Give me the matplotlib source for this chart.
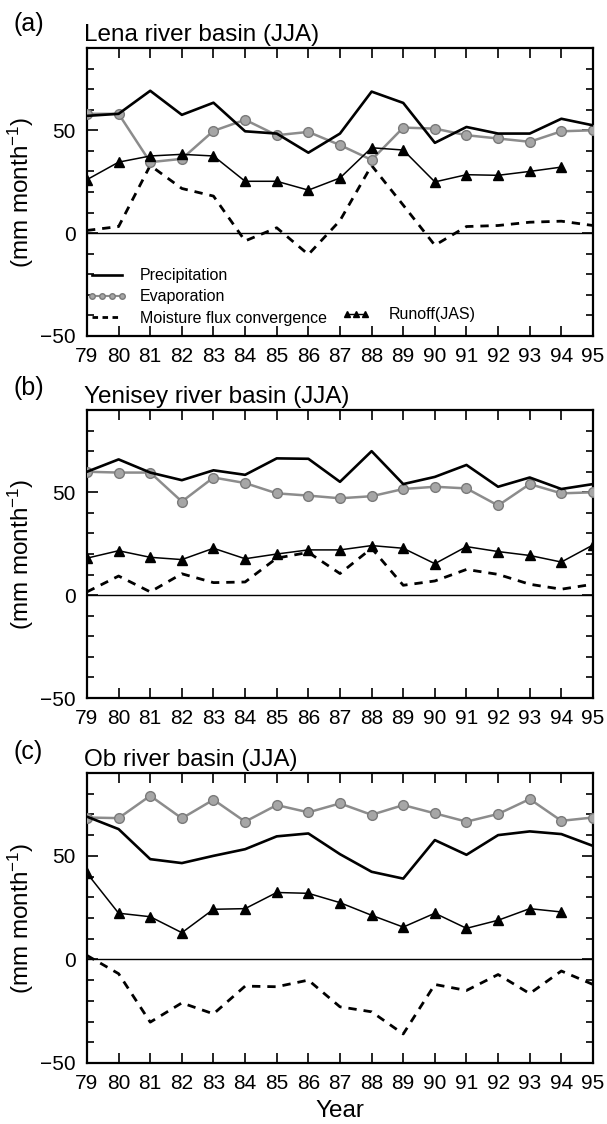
import numpy as np
import matplotlib.pyplot as plt
from matplotlib.lines import Line2D
from matplotlib.ticker import MultipleLocator

plt.rcParams['font.family'] = ['Liberation Sans', 'DejaVu Sans']
plt.rcParams['mathtext.fontset'] = 'custom'
plt.rcParams['mathtext.rm'] = 'Liberation Sans'
plt.rcParams['mathtext.default'] = 'regular'

years = np.arange(79, 96)
year_labels = [str(y) for y in years]

# Lena river basin (JJA)
lena_precip = [57, 58, 69.2, 57.5, 63.4, 49.5, 48.4, 39.1, 48.4, 68.8, 63.3, 43.9, 51.6, 48.4, 48.4, 55.6, 52.4]
lena_evap = [58, 58, 34.5, 36.1, 49.7, 55.1, 47.6, 49.2, 42.8, 35.6, 51.3, 50.8, 47.6, 46, 44.4, 49.5, 50]
lena_mfc = [1.3, 3.2, 32.9, 21.7, 18, -3.8, 2.6, -10.4, 6.1, 32.9, 13.6, -5.9, 3.2, 3.7, 5.3, 5.8, 3.7]
lena_runoff = [26, 34.5, 37.5, 38.3, 37.5, 25.2, 25.2, 20.9, 26.8, 41.5, 40.4, 24.9, 28.4, 28.1, 30, 32.1]

# Yenisey river basin (JJA)
yen_precip = [60, 66, 59.6, 55.9, 60.7, 58.5, 66.5, 66.3, 55.1, 70, 54, 57.5, 63.3, 52.7, 57.2, 51.6, 54]
yen_evap = [60, 59.6, 59.6, 45.5, 57.2, 54.5, 49.5, 48.4, 47.1, 48.1, 51.6, 52.7, 51.9, 43.6, 54, 49.5, 50]
yen_mfc = [1.6, 9.3, 1.6, 10.4, 6.1, 6.4, 18, 20.8, 10.5, 22.8, 4.8, 6.9, 12.5, 10.1, 5.3, 2.9, 5.3]
yen_runoff = [18, 21.6, 18.4, 17.3, 22.8, 17.7, 20, 22, 22, 24.1, 22.8, 15.3, 23.6, 21.2, 19.3, 16.1, 24.4]

# Ob river basin (JJA)
ob_precip = [68.9, 62.9, 48.4, 46.5, 50, 53.2, 59.4, 60.8, 50.8, 42.3, 39, 57.6, 50.5, 60, 61.8, 60.5, 54.8]
ob_evap = [68.5, 68.2, 79, 68.1, 77.1, 66.5, 74.5, 71, 75.3, 69.8, 74.5, 70.5, 66.5, 70.2, 77.4, 66.9, 68.5]
ob_mfc = [1.9, -6.9, -30.3, -21, -26.3, -12.9, -13.2, -10, -22.9, -25.3, -36, -12.1, -15, -7.3, -16.5, -5.6, -12.1]
ob_runoff = [41.6, 22.3, 20.6, 12.9, 24.2, 24.5, 32.3, 31.9, 27.4, 21.3, 15.6, 22.3, 15, 18.9, 24.5, 22.9]

GRAY = '#8c8c8c'


def draw_panel(ax, precip, evap, mfc, runoff, title):
    ax.axhline(0, color='black', lw=1.0, zorder=1)
    ax.plot(years[:len(evap)], evap, color=GRAY, lw=1.8, marker='o', ms=7,
            mfc='#a6a6a6', mec='#7a7a7a', mew=1.0, zorder=3)
    ax.plot(years[:len(runoff)], runoff, color='black', lw=1.1, marker='^',
            ms=6.5, zorder=4)
    ax.plot(years[:len(mfc)], mfc, color='black', lw=2.0, ls=(0, (3, 2.5)), zorder=2)
    ax.plot(years[:len(precip)], precip, color='black', lw=1.9, zorder=5)

    ax.set_xlim(79, 95)
    ax.set_ylim(-50, 90)
    ax.set_xticks(years)
    ax.set_xticklabels(year_labels)
    ax.set_yticks([-50, 0, 50])
    ax.yaxis.set_minor_locator(MultipleLocator(10))
    ax.tick_params(axis='x', which='major', direction='in', top=True, length=7,
                   width=1.2, labelsize=15, pad=8)
    ax.tick_params(axis='y', which='major', direction='in', right=True, length=8,
                   width=1.2, labelsize=15, pad=8)
    ax.tick_params(axis='y', which='minor', direction='in', right=True, length=5,
                   width=1.2)
    for sp in ax.spines.values():
        sp.set_linewidth(1.6)
    ax.set_ylabel('(mm month$^{-1}$)', fontsize=17.5, labelpad=3)
    ax.set_title(title, loc='left', fontsize=17.5, pad=5, x=-0.005)


fig = plt.figure(figsize=(6.07, 11.24), dpi=100)
ax_a = fig.add_axes([0.1433, 0.7011, 0.8336, 0.2562])
ax_b = fig.add_axes([0.1433, 0.3790, 0.8336, 0.2562])
ax_c = fig.add_axes([0.1433, 0.0543, 0.8336, 0.2580])

draw_panel(ax_a, lena_precip, lena_evap, lena_mfc, lena_runoff, 'Lena river basin (JJA)')
draw_panel(ax_b, yen_precip, yen_evap, yen_mfc, yen_runoff, 'Yenisey river basin (JJA)')
draw_panel(ax_c, ob_precip, ob_evap, ob_mfc, ob_runoff, 'Ob river basin (JJA)')
ax_c.set_xlabel('Year', fontsize=17.5, labelpad=5)

fig.text(0.022, 1 - 24 / 1124, '(a)', fontsize=18, va='center', ha='left')
fig.text(0.022, 1 - 388 / 1124, '(b)', fontsize=18, va='center', ha='left')
fig.text(0.022, 1 - 752 / 1124, '(c)', fontsize=18, va='center', ha='left')

# legend in panel (a)
h_p = Line2D([], [], color='black', lw=1.9)
h_e = Line2D([], [], color=GRAY, lw=1.5, marker='o', ms=4, mfc='#a6a6a6', mec='#7a7a7a')
h_m = Line2D([], [], color='black', lw=2.0, ls=(0, (2, 1.6)))
h_r = Line2D([], [], color='black', lw=1.0, marker='^', ms=5)
leg1 = ax_a.legend([h_p, h_e, h_m], ['Precipitation', 'Evaporation', 'Moisture flux convergence'],
                   loc='lower left', bbox_to_anchor=(0.0, 0.035), frameon=False, fontsize=11.5,
                   handlelength=2.5, handletextpad=0.8, labelspacing=0.4, borderpad=0,
                   borderaxespad=0, numpoints=4)
ax_a.add_artist(leg1)
ax_a.legend([h_r], ['Runoff(JAS)'], loc='center left', bbox_to_anchor=(0.505, 0.073),
            frameon=False, fontsize=11.5, handlelength=1.7, handletextpad=1.2, borderpad=0,
            borderaxespad=0, numpoints=3)

fig.savefig('out.png', dpi=100)
